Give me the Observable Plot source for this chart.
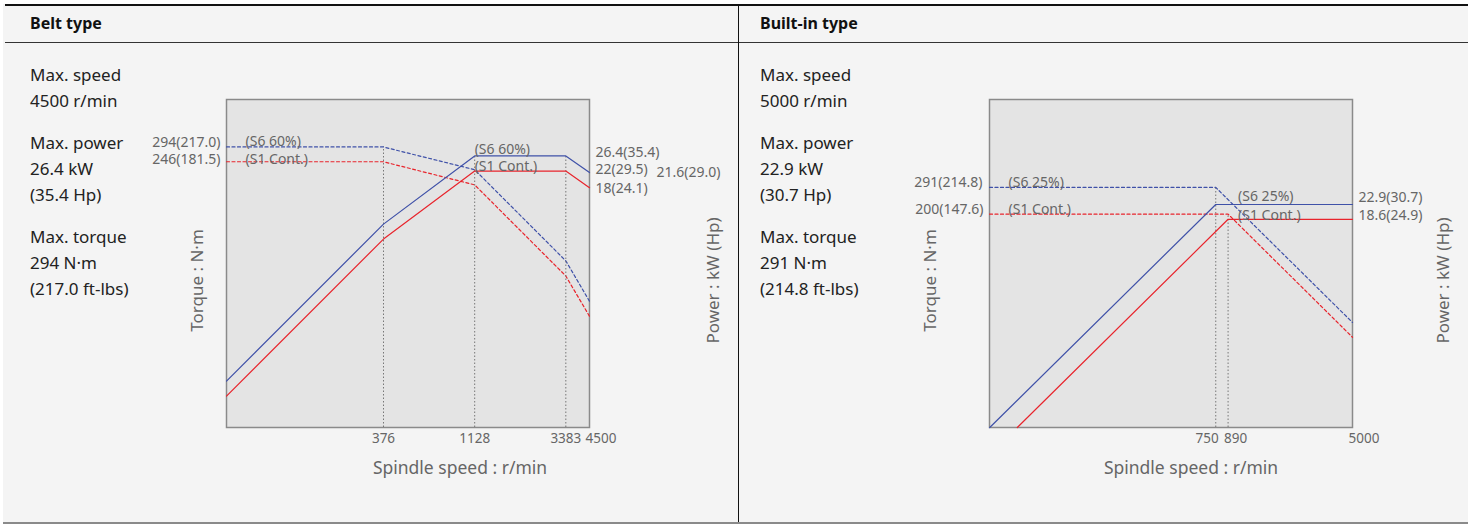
<!DOCTYPE html>
<html><head><meta charset="utf-8">
<script src="https://cdn.jsdelivr.net/npm/d3@7"></script>
<script src="https://cdn.jsdelivr.net/npm/@observablehq/plot@0.6"></script>
<style>
body{margin:0;background:#fff;width:1468px;height:526px;overflow:hidden;font-family:"Noto Sans",sans-serif;position:relative}
#page{position:absolute;left:3px;top:4px;width:1465px;height:520px;background:#f4f4f4}
.line{position:absolute}
.head{position:absolute;top:12px;font-weight:bold;font-size:16px;color:#111;line-height:22px}
.info{position:absolute;top:62px;font-size:17px;color:#222;line-height:26px}
.info p{margin:0 0 16px 0}
.chart{position:absolute}
.chart svg{position:absolute;left:0;top:0}
</style></head>
<body>
<div id="page"></div>
<div class="line" style="left:5px;top:4px;width:1463px;height:1.5px;background:#111"></div>
<div class="line" style="left:5px;top:42px;width:1463px;height:1px;background:#333"></div>
<div class="line" style="left:738px;top:4px;width:1px;height:519px;background:#111"></div>
<div class="line" style="left:3px;top:522px;width:1465px;height:2px;background:#8a8a8a"></div>
<div class="head" style="left:30px">Belt type</div>
<div class="head" style="left:760px">Built-in type</div>
<div class="info" style="left:30px"><p>Max. speed<br>4500 r/min</p><p>Max. power<br>26.4 kW<br>(35.4 Hp)</p><p>Max. torque<br>294 N·m<br>(217.0 ft-lbs)</p></div>
<div class="info" style="left:760px"><p>Max. speed<br>5000 r/min</p><p>Max. power<br>22.9 kW<br>(30.7 Hp)</p><p>Max. torque<br>291 N·m<br>(214.8 ft-lbs)</p></div>
<div id="belt" class="chart" style="left:140px;top:60px;width:590px;height:430px"></div>
<div id="built" class="chart" style="left:880px;top:60px;width:588px;height:430px"></div>
<script>
// ---- Belt type data: [speed r/min, value] ----
const beltSpeedDomain = [56.7, 4500];
const beltTorqueDomain = [10, 521];
const beltPowerDomain = [1, 52.1];
const beltMidTicks = [376, 1128, 3383];
const beltEndTicks = [4500];
const beltTorqueS6 = [[56.7, 294], [376, 294], [1128, 223.5], [3383, 74.5], [4500, 45.8]];
const beltTorqueS1 = [[56.7, 246], [376, 246], [1128, 186.2], [3383, 62.1], [4500, 38.2]];
const beltPowerS6 = [[56.7, 1.75], [376, 11.6], [1128, 26.4], [3383, 26.4], [4500, 21.6]];
const beltPowerS1 = [[56.7, 1.46], [376, 9.69], [1128, 22], [3383, 22], [4500, 18]];
const beltTorqueRules = [[376, 294]];
const beltPowerRules = [[1128, 26.4], [3383, 26.4]];

// ---- Built-in type data ----
const builtSpeedDomain = [32.5, 5000];
const builtTorqueDomain = [10, 1000];
const builtPowerDomain = [1, 100];
const builtTorqueS6 = [[32.5, 291], [750, 291], [5000, 43.7]];
const builtTorqueS1 = [[32.5, 200], [890, 200], [5000, 35.5]];
const builtPowerS6 = [[32.6, 1.0], [750, 22.9], [5000, 22.9]];
const builtPowerS1 = [[47.8, 1.0], [890, 18.6], [5000, 18.6]];
const builtTorqueRules = [[750, 291], [890, 200]];

const BLUE = "#3f51a8", RED = "#e8242c", GREY = "#666", FONT = "Noto Sans";
const DASH = "3,2.5";
const VAL_FS = 14;
const SHIFT = 1.5; // glyph-centre correction for Noto Sans metrics

function lbl(text, x, y, opt) {
  const o = Object.assign({x: () => x, y: () => y, text: d => d, fill: GREY, fontSize: VAL_FS}, opt);
  o.dy = (o.dy || 0) + SHIFT;
  return Plot.text([text], o);
}

function layer(cfg, yDomain, marks, withFrame) {
  return Plot.plot({
    width: cfg.width, height: 430,
    marginLeft: cfg.ml, marginRight: cfg.mr, marginTop: 39, marginBottom: 63,
    style: {background: "transparent", fontFamily: FONT, fontSize: "13px", overflow: "visible"},
    x: {type: "log", domain: cfg.xDomain, axis: null},
    y: {type: "log", domain: yDomain, axis: null},
    marks: (withFrame ? [Plot.frame({fill: "#e4e4e4", stroke: "#8a8a8a", strokeWidth: 1.5})] : []).concat(marks)
  });
}

function rules(data, ymin) {
  return Plot.ruleX(data, {x: d => d[0], y1: () => ymin, y2: d => d[1], stroke: "#777", strokeWidth: 1, strokeDasharray: "1.5,2"});
}
function curve(data, color, dashed) {
  return Plot.line(data, {x: d => d[0], y: d => d[1], stroke: color, strokeWidth: 1.2, strokeDasharray: dashed ? DASH : null});
}
function axisTitles(xdx, pdx) {
  return [
    Plot.text(["Spindle speed : r/min"], {frameAnchor: "bottom", textAnchor: "middle", dx: xdx, dy: 46, fill: GREY, fontSize: 17.5}),
    Plot.text(["Torque : N·m"], {frameAnchor: "left", textAnchor: "middle", dx: pdx[0], dy: 17, rotate: -90, fill: GREY, fontSize: 17}),
    Plot.text(["Power : kW (Hp)"], {frameAnchor: "right", textAnchor: "middle", dx: pdx[1], dy: 17, rotate: -90, fill: GREY, fontSize: 17})
  ];
}
function ticks(vals, anchor, dx) {
  return Plot.text(vals, {x: d => d, text: d => String(d), frameAnchor: "bottom", dy: 15, dx, textAnchor: anchor, fill: GREY, fontSize: 13.5});
}

// Belt chart
{
  const cfg = {width: 590, ml: 86, mr: 141, xDomain: beltSpeedDomain};
  const x0 = beltSpeedDomain[0], x1 = beltSpeedDomain[1];
  const t = layer(cfg, beltTorqueDomain, [
    rules(beltTorqueRules, beltTorqueDomain[0]),
    curve(beltTorqueS6, BLUE, true),
    curve(beltTorqueS1, RED, true),
    ticks(beltMidTicks, "middle", 0),
    ticks(beltEndTicks, "start", -4),
    lbl("294(217.0)", x0, 294, {textAnchor: "end", dx: -6, dy: -6}),
    lbl("246(181.5)", x0, 246, {textAnchor: "end", dx: -6, dy: -4}),
    lbl("(S6 60%)", x0, 294, {textAnchor: "start", dx: 19, dy: -7}),
    lbl("(S1 Cont.)", x0, 246, {textAnchor: "start", dx: 19, dy: -4}),
    ...axisTitles(52, [-29, 124])
  ], true);
  const p = layer(cfg, beltPowerDomain, [
    rules(beltPowerRules, beltPowerDomain[0]),
    curve(beltPowerS6, BLUE, false),
    curve(beltPowerS1, RED, false),
    lbl("(S6 60%)", 1128, 26.4, {textAnchor: "start", dx: 0, dy: -8}),
    lbl("(S1 Cont.)", 1128, 22, {textAnchor: "start", dx: 0, dy: -6}),
    lbl("26.4(35.4)", x1, 26.4, {textAnchor: "start", dx: 6, dy: -5}),
    lbl("22(29.5)", x1, 22, {textAnchor: "start", dx: 6, dy: -3}),
    lbl("21.6(29.0)", x1, 21.6, {textAnchor: "start", dx: 67, dy: -2}),
    lbl("18(24.1)", x1, 18, {textAnchor: "start", dx: 6, dy: -1})
  ], false);
  document.getElementById("belt").append(t, p);
}

// Built-in chart
{
  const cfg = {width: 588, ml: 109, mr: 116, xDomain: builtSpeedDomain};
  const x0 = builtSpeedDomain[0], x1 = builtSpeedDomain[1];
  const t = layer(cfg, builtTorqueDomain, [
    rules(builtTorqueRules, builtTorqueDomain[0]),
    curve(builtTorqueS6, BLUE, true),
    curve(builtTorqueS1, RED, true),
    ticks([750], "end", 3),
    ticks([890, 5000], "start", -4),
    lbl("291(214.8)", x0, 291, {textAnchor: "end", dx: -7, dy: -6}),
    lbl("200(147.6)", x0, 200, {textAnchor: "end", dx: -6, dy: -6}),
    lbl("(S6 25%)", x0, 291, {textAnchor: "start", dx: 19, dy: -6}),
    lbl("(S1 Cont.)", x0, 200, {textAnchor: "start", dx: 19, dy: -6}),
    ...axisTitles(20, [-59, 91])
  ], true);
  const p = layer(cfg, builtPowerDomain, [
    curve(builtPowerS6, BLUE, false),
    curve(builtPowerS1, RED, false),
    lbl("(S6 25%)", 890, 22.9, {textAnchor: "start", dx: 10, dy: -9}),
    lbl("(S1 Cont.)", 890, 18.6, {textAnchor: "start", dx: 10, dy: -5}),
    lbl("22.9(30.7)", x1, 22.9, {textAnchor: "start", dx: 6, dy: -8}),
    lbl("18.6(24.9)", x1, 18.6, {textAnchor: "start", dx: 6, dy: -5})
  ], false);
  document.getElementById("built").append(t, p);
}
</script>
</body></html>
